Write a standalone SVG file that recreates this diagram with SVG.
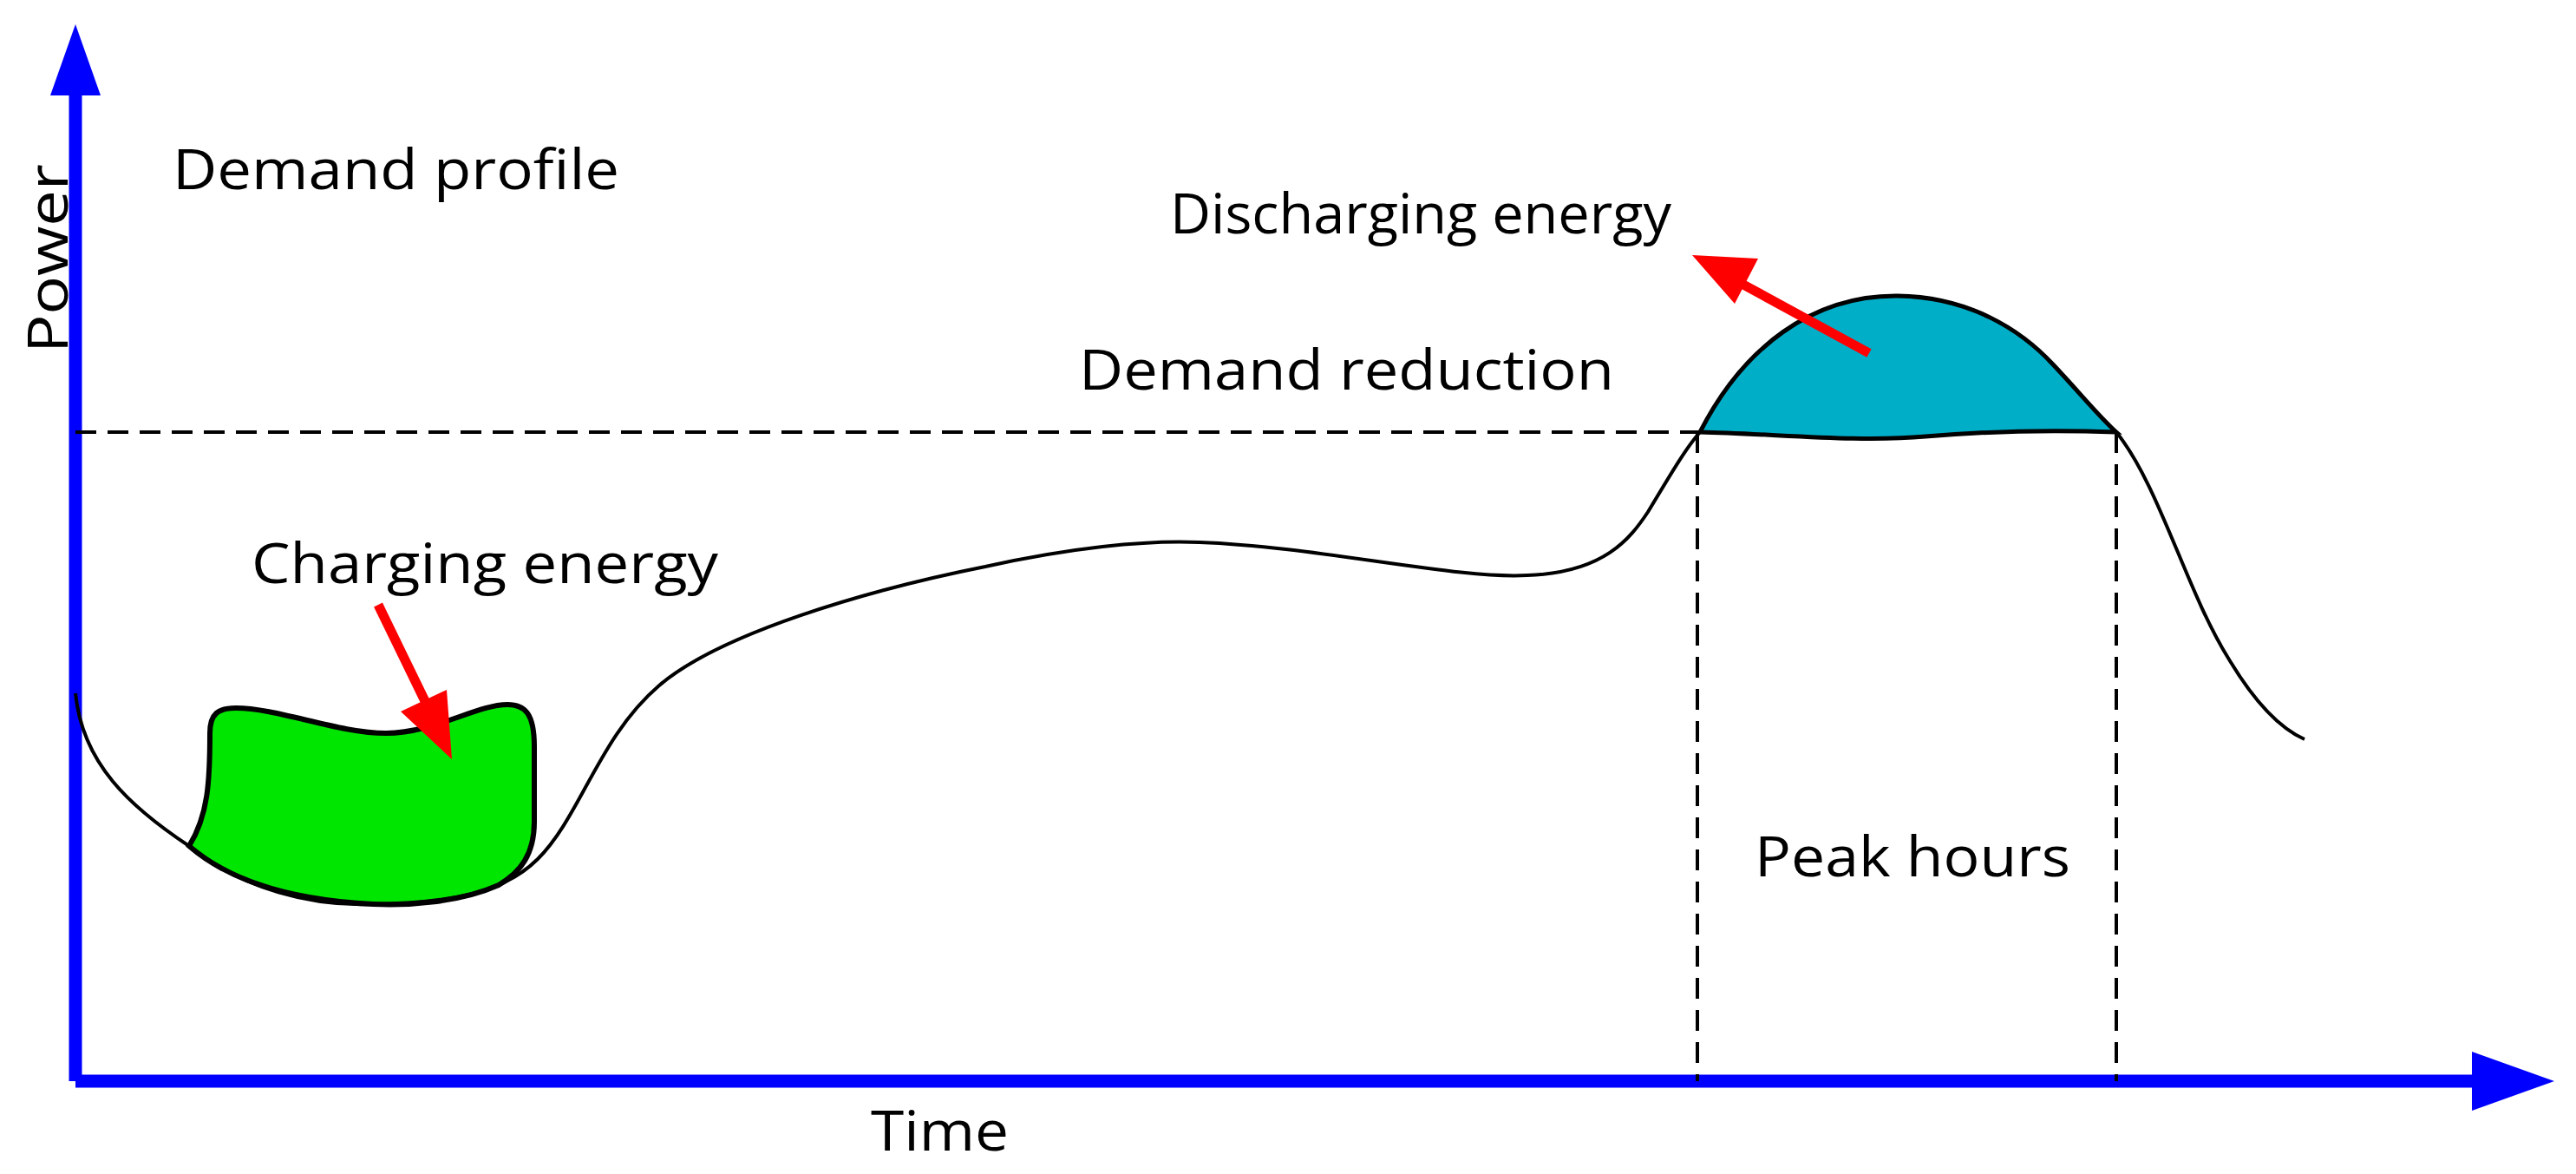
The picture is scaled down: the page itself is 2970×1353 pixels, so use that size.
<svg xmlns="http://www.w3.org/2000/svg" width="2970" height="1353" viewBox="0 0 2970 1353">
<style>
text{font-family:"Open Sans","Liberation Sans",sans-serif;font-size:64px;fill:#000}
.ax{stroke:#0000ff;stroke-width:15;fill:none}
.dash{stroke:#000;stroke-width:4;stroke-dasharray:24 13;fill:none}
.red{stroke:#ff0000;stroke-width:11;fill:none}
</style>
<rect width="2970" height="1353" fill="#fff"/>
<g id="axes">
<path class="ax" d="M87,1246 V100 M87,1246 H2860"/>
<polygon points="87,28 58,110 116,110" fill="#0000ff"/>
<polygon points="2945,1246 2850,1212 2850,1280" fill="#0000ff"/>
</g>
<g id="charging-shape">
<path d="M218,975 C240,940 242,900 242,845 C242,822 252,816 272,816 C320,816 390,845 445,845 C500,845 550,812 585,812 C605,812 616,822 616,860 L616,947 C616,985 600,1005 575,1020 C530,1040 470,1044 430,1042 C350,1038 270,1020 218,975 Z" fill="#00e600" stroke="#000" stroke-width="6"/>
</g>
<g id="discharging-shape">
<path d="M1960,498 C2010,400 2090,340 2188,341 C2270,342 2330,380 2367,420 C2400,455 2420,480 2440,498 C2380,496 2300,496 2220,503 C2140,510 2050,500 1960,498 Z" fill="#00aec8" stroke="#000" stroke-width="5"/>
</g>
<g id="connectors">
<path class="dash" d="M87,498 H1960 M1957,498 V1246 M2440,498 V1246"/>
<path d="M87,799 C95,880 150,930 218,975 C280,1025 360,1045 430,1042 C520,1040 580,1030 620,990 C670,940 690,850 760,790 C830,730 1000,680 1136,653 C1230,632 1320,622 1383,625 C1520,630 1680,668 1761,663 C1850,660 1880,620 1900,590 C1930,540 1945,515 1960,498 M2440,498 C2490,560 2520,680 2570,760 C2600,810 2630,840 2657,852" fill="none" stroke="#000" stroke-width="4"/>
<path class="red" d="M436,697 L490,808"/>
<polygon points="521,875 462,820 515,795" fill="#ff0000"/>
<path class="red" d="M2155,407 L2010,328"/>
<polygon points="1951,294 2027,298 2000,350" fill="#ff0000"/>
</g>
<g id="labels">
<text x="199" y="218" textLength="515" lengthAdjust="spacingAndGlyphs">Demand profile</text>
<text x="1349" y="269" textLength="578" lengthAdjust="spacingAndGlyphs">Discharging energy</text>
<text x="1244" y="449" textLength="617" lengthAdjust="spacingAndGlyphs">Demand reduction</text>
<text x="290" y="672" textLength="538" lengthAdjust="spacingAndGlyphs">Charging energy</text>
<text x="2023" y="1010" textLength="364" lengthAdjust="spacingAndGlyphs">Peak hours</text>
<text x="1004" y="1326" textLength="159" lengthAdjust="spacingAndGlyphs">Time</text>
<text transform="translate(78,407) rotate(-90)" textLength="218" lengthAdjust="spacingAndGlyphs">Power</text>
</g>
</svg>
